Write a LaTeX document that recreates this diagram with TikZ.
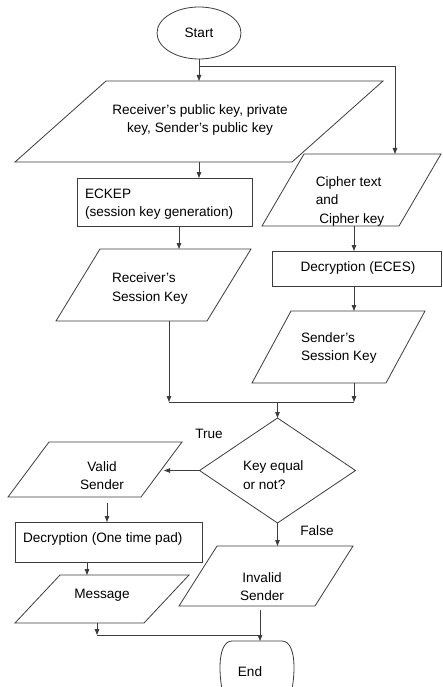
\documentclass[tikz,border=0pt]{standalone}
\usepackage{fontspec}
\setmainfont{Liberation Sans}
\usetikzlibrary{shapes.geometric,arrows.meta,calc}
\definecolor{ln}{RGB}{60,60,60}
\newcommand\myparal[2]{\draw[draw=ln, line width=0.8pt, fill=white] (#1.south west) -- ([xshift=#2]#1.north west) -- (#1.north east) -- ([xshift=-#2]#1.south east) -- cycle;}
\begin{document}
\begin{tikzpicture}[x=1pt,y=-1pt,
  every node/.style={font=\fontsize{13.6}{18.5}\selectfont, inner sep=0pt, outer sep=0pt},
  lnk/.style={draw=ln, line width=0.8pt},
  arr/.style={draw=ln, line width=0.8pt, -{Triangle[length=6pt,width=4.5pt]}},
  parab/.style={rectangle},
  boxs/.style={rectangle, draw=ln, line width=0.8pt, fill=white},
  txt/.style={text=black}
]
\useasboundingbox[fill=white] (0,0) rectangle (442,687);

% shapes
\node[ellipse, draw=ln, line width=0.8pt, fill=white, minimum width=84pt, minimum height=52pt] (sStart) at (199,33) {};
\node[parab, minimum width=368pt, minimum height=81pt] (sP1) at (199,121.5) {};
\myparal{sP1}{91pt}
\node[parab, minimum width=179pt, minimum height=72pt] (sCipher) at (351.5,190) {};
\myparal{sCipher}{42pt}
\node[boxs, minimum width=175pt, minimum height=48pt] (sEckep) at (164.5,202) {};
\node[parab, minimum width=195pt, minimum height=72pt] (sRsk) at (153.5,285) {};
\myparal{sRsk}{44pt}
\node[boxs, minimum width=169pt, minimum height=35pt] (sEces) at (356.5,268.5) {};
\node[parab, minimum width=173pt, minimum height=72pt] (sSsk) at (338.5,347) {};
\myparal{sSsk}{39pt}
\node[diamond, draw=ln, line width=0.8pt, fill=white, minimum width=156pt, minimum height=105pt] (sDec) at (277.5,470.5) {};
\node[parab, minimum width=174pt, minimum height=55pt] (sValid) at (95,469.5) {};
\myparal{sValid}{41pt}
\node[boxs, minimum width=187pt, minimum height=40pt] (sOtp) at (108.5,542) {};
\node[parab, minimum width=174pt, minimum height=48pt] (sMsg) at (102,599) {};
\myparal{sMsg}{45pt}
\node[parab, minimum width=174pt, minimum height=60pt] (sInv) at (266,576) {};
\myparal{sInv}{38pt}
\node[parab, minimum width=74pt, minimum height=60pt] (sEnd) at (257,671) {};
\draw[draw=ln, line width=0.8pt, fill=white]
  (232,641) -- (282,641)
  .. controls (290,641) and (294,652) .. (294,667)
  .. controls (294,680) and (292,690) .. (290,700)
  -- (224,700)
  .. controls (222,690) and (220,680) .. (220,667)
  .. controls (220,652) and (224,641) .. (232,641) -- cycle;

% texts
\node[txt] (tStart) at (199,33) {Start};
\node[txt, align=center] (tP1) at (200,120) {Receiver’s public key, private\\key, Sender’s public key};
\node[txt, align=left] (tCipher) at (350,201) {Cipher text\\and\\\hspace*{3.5pt}Cipher key};
\node[txt, align=left, anchor=west] (tEckep) at (85,204) {ECKEP\\(session key generation)};
\node[txt] (tEces) at (358,268) {Decryption (ECES)};
\node[txt, align=left, anchor=west] (tRsk) at (112,288.5) {Receiver’s\\Session Key};
\node[txt, align=left, anchor=west] (tSsk) at (301,348) {Sender’s\\Session Key};
\node[txt, align=left, anchor=west] (tDec) at (243,475) {Key equal\\or not?};
\node[txt] (tTrue) at (209,434) {True};
\node[txt] (tFalse) at (317,531) {False};
\node[txt, align=center] (tValid) at (102,475.5) {Valid\\Sender};
\node[txt, anchor=west] (tOtp) at (23,539) {Decryption (One time pad)};
\node[txt] (tMsg) at (102,595) {Message};
\node[txt, align=center] (tInv) at (262,586.5) {Invalid\\Sender};
\node[txt] (tEnd) at (250,672) {End};

% connectors
\coordinate (j1) at (199,66);
\coordinate (a1) at (179,0);
\coordinate (a2) at (354,0);
\coordinate (m1) at (169,402);
\coordinate (m2) at (354,402);
\coordinate (m3) at (277.5,402);
\coordinate (v1) at (107,503);
\coordinate (v2) at (164,0);
\coordinate (o1) at (87,0);
\coordinate (e1) at (97,635);
\coordinate (e2) at (260,635);
\coordinate (i1) at (260,610);
\coordinate (c1) at ([xshift=43.5pt]sCipher.north);

\draw[arr] (sStart.south) -- (sStart.south |- sP1.north);
\draw[arr] (j1) -| (c1);
\draw[arr] (sP1.south) -- (sP1.south |- sEckep.north);
\draw[arr] (a1 |- sEckep.south) -- (a1 |- sRsk.north);
\draw[arr] (a2 |- sCipher.south) -- (a2 |- sEces.north);
\draw[arr] (a2 |- sEces.south) -- (a2 |- sSsk.north);
\draw[arr] (m1 |- sRsk.south) -- (m1);
\draw[arr] (m2 |- sSsk.south) -- (m2);
\draw[lnk] (m1) -- (m2);
\draw[arr] (m3) -- (sDec.north);
\draw[arr] (sDec.west) -- (sDec.west -| v2);
\draw[arr] (sDec.south) -- (sDec.south |- sInv.north);
\draw[arr] (v1) -- (v1 |- sOtp.north);
\draw[arr] (o1 |- sOtp.south) -- (o1 |- sMsg.north);
\draw[arr] (e1 |- sMsg.south) -- (e1);
\draw[lnk] (e1) -- (e2);
\draw[arr] (i1) -- (i1 |- sEnd.north);
\end{tikzpicture}
\end{document}
